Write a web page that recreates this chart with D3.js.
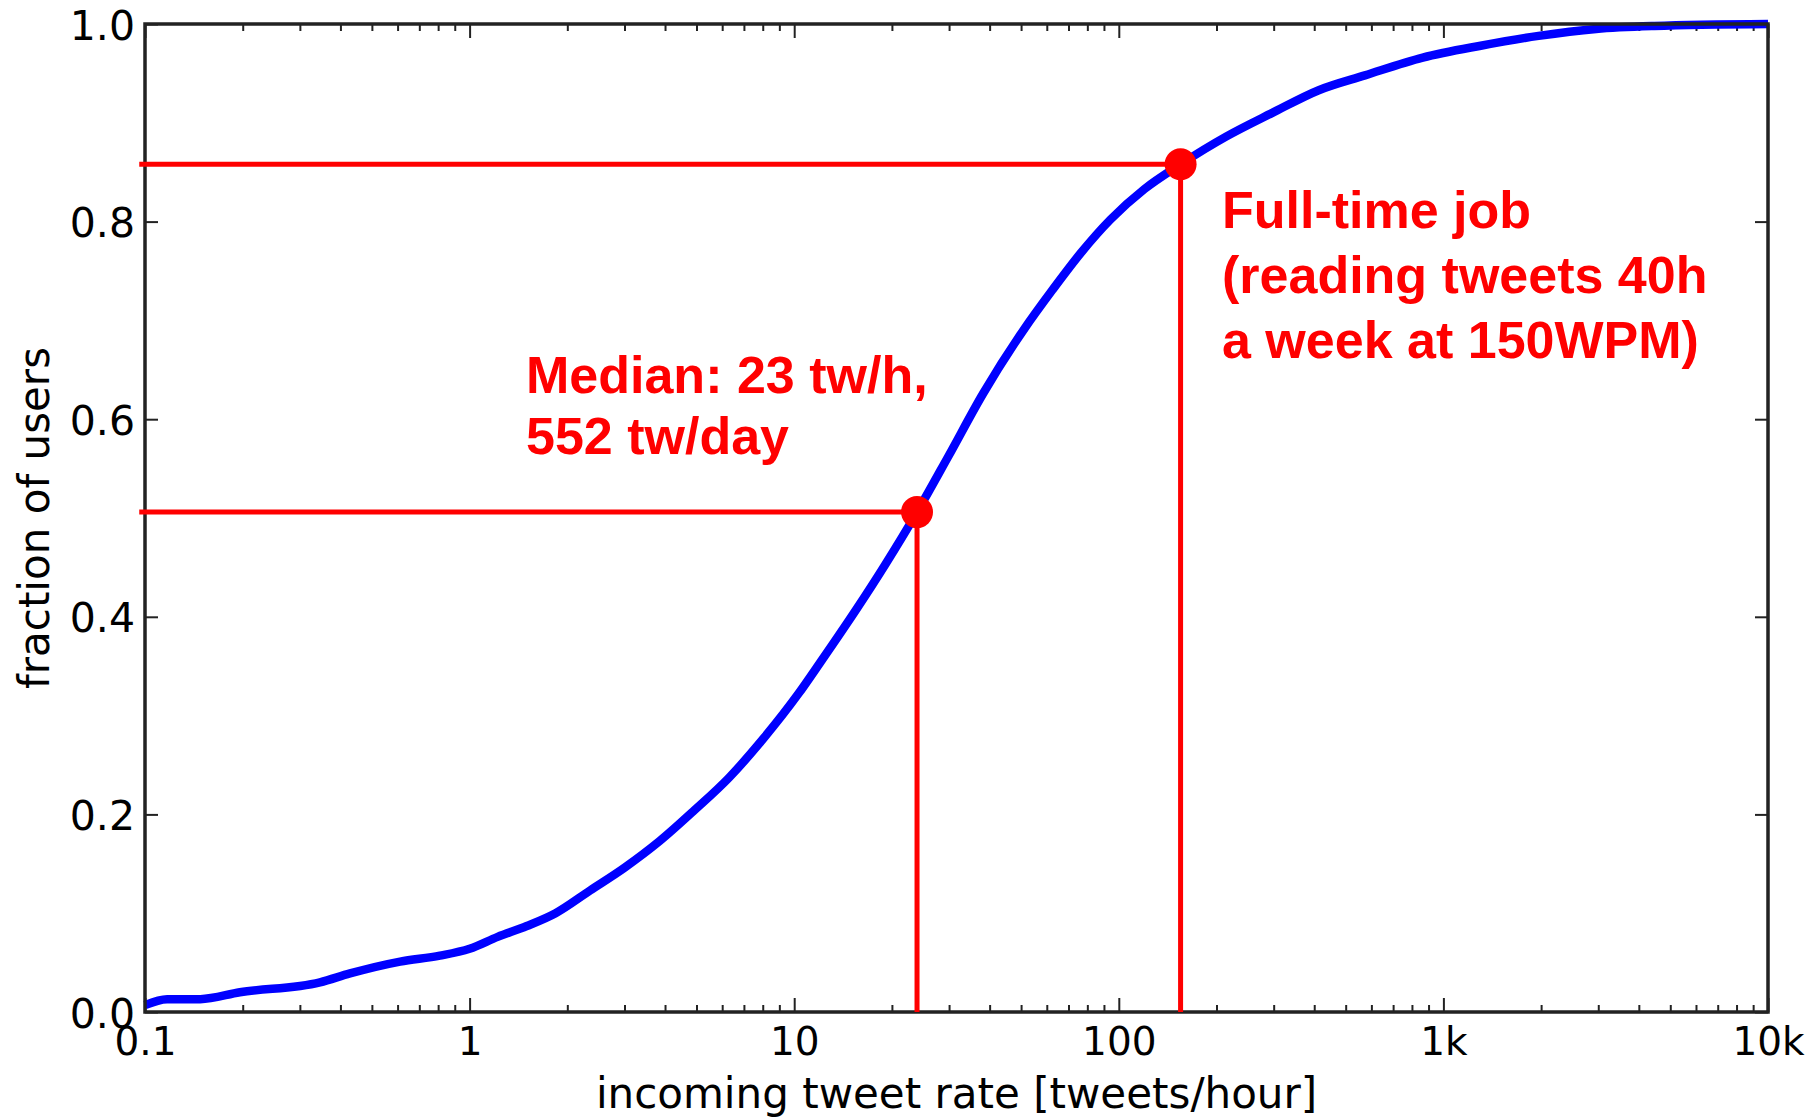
<!DOCTYPE html>
<html>
<head>
<meta charset="utf-8">
<script src="https://cdn.jsdelivr.net/npm/d3@7"></script>
<style>
  body { margin: 0; background: #fff; }
  svg { display: block; }
  .tick text { font-family: "DejaVu Sans", sans-serif; fill: #000; }
  .tick line { stroke: #222; stroke-width: 2; }
  .note { font-family: "Liberation Sans", Arial, sans-serif; font-weight: bold; font-size: 52px; fill: #ff0000; }
</style>
</head>
<body>
<svg width="1814" height="1117"></svg>
<script>
// incoming tweet rate [tweets/hour] vs cumulative fraction of users
const rates = [0.1, 0.117, 0.148, 0.196, 0.346, 0.428, 0.611, 0.81, 1.0, 1.22, 1.5, 1.84, 2.35, 3.0, 3.85, 4.92, 6.29, 8.05, 10.3, 12.1, 15.5, 19.0, 23.9, 29.8, 38.2, 50.8, 62.5, 76.7, 94.2, 120, 155, 214, 297, 413, 573, 864, 1303, 1964, 2954, 4463, 10000];
const fractions = [0.007, 0.013, 0.013, 0.020, 0.030, 0.039, 0.051, 0.057, 0.064, 0.076, 0.087, 0.100, 0.123, 0.146, 0.173, 0.204, 0.237, 0.277, 0.322, 0.355, 0.407, 0.452, 0.506, 0.562, 0.626, 0.690, 0.731, 0.769, 0.802, 0.833, 0.858, 0.886, 0.910, 0.933, 0.948, 0.966, 0.978, 0.988, 0.995, 0.998, 1.0];

// marked points: median and "full-time job"
const markRates = [23.9, 155];
const markFractions = [0.506, 0.858];
const lineStart = 0.096;

const xTickValues = [0.1, 1, 10, 100, 1000, 10000];
const xTickLabels = ["0.1", "1", "10", "100", "1k", "10k"];
const yTickValues = [0, 0.2, 0.4, 0.6, 0.8, 1.0];

const medianText = ["Median: 23 tw/h,", "552 tw/day"];
const fullTimeText = ["Full-time job", "(reading tweets 40h", "a week at 150WPM)"];

const svg = d3.select("svg");
const margin = { top: 24, right: 46, bottom: 105, left: 145 };
const width = 1814 - margin.left - margin.right,
    height = 1117 - margin.top - margin.bottom;

const x = d3.scaleLog().domain([0.1, 10000]).range([0, width]);
const y = d3.scaleLinear().domain([0, 1]).range([height, 0]);

const g = svg.append("g")
    .attr("transform", "translate(" + margin.left + "," + margin.top + ")");

// minor log ticks
let minor = [];
xTickValues.slice(0, -1).forEach(d => {
  for (let k = 2; k <= 9; k++) minor.push(d * k);
});

g.append("g")
    .attr("transform", "translate(0," + height + ")")
    .call(d3.axisBottom(x).tickValues(minor).tickSize(-7).tickFormat(""))
    .call(a => a.select(".domain").remove());
g.append("g")
    .call(d3.axisTop(x).tickValues(minor).tickSize(-7).tickFormat(""))
    .call(a => a.select(".domain").remove());

g.append("g")
    .attr("transform", "translate(0," + height + ")")
    .call(d3.axisBottom(x).tickValues(xTickValues).tickSize(-14).tickPadding(15)
        .tickFormat((d, i) => xTickLabels[i]))
    .call(a => a.select(".domain").remove())
    .selectAll("text").style("font-size", "39px");
g.append("g")
    .call(d3.axisTop(x).tickValues(xTickValues).tickSize(-14).tickFormat(""))
    .call(a => a.select(".domain").remove());

g.append("g")
    .call(d3.axisLeft(y).tickValues(yTickValues).tickSize(-13).tickPadding(10)
        .tickFormat(d3.format(".1f")))
    .call(a => a.select(".domain").remove())
    .selectAll("text").style("font-size", "41px").attr("dy", "0.37em");
g.append("g")
    .attr("transform", "translate(" + width + ",0)")
    .call(d3.axisRight(y).tickValues(yTickValues).tickSize(-13).tickFormat(""))
    .call(a => a.select(".domain").remove());

// data curve
const line = d3.line()
    .x((d, i) => x(rates[i]))
    .y((d, i) => y(fractions[i]))
    .curve(d3.curveMonotoneX);

g.append("path")
    .datum(rates)
    .attr("fill", "none")
    .attr("stroke", "#0000ff")
    .attr("stroke-width", 8.5)
    .attr("stroke-linejoin", "round")
    .attr("d", line);

// frame
g.append("rect")
    .attr("width", width)
    .attr("height", height)
    .attr("fill", "none")
    .attr("stroke", "#222")
    .attr("stroke-width", 3.5);

// guide lines to the marked points
markRates.forEach((r, i) => {
  g.append("line")
      .attr("x1", x(lineStart)).attr("x2", x(r))
      .attr("y1", y(markFractions[i])).attr("y2", y(markFractions[i]))
      .attr("stroke", "#ff0000").attr("stroke-width", 5);
  g.append("line")
      .attr("x1", x(r)).attr("x2", x(r))
      .attr("y1", y(markFractions[i])).attr("y2", y(0))
      .attr("stroke", "#ff0000").attr("stroke-width", 5);
});

g.selectAll(".mark")
    .data(markRates)
    .enter()
    .append("circle")
    .attr("class", "mark")
    .attr("cx", d => x(d))
    .attr("cy", (d, i) => y(markFractions[i]))
    .attr("r", 16)
    .attr("fill", "#ff0000");

// annotations
svg.append("text")
    .attr("class", "note")
    .selectAll("tspan")
    .data(medianText)
    .enter()
    .append("tspan")
    .attr("x", 526)
    .attr("y", (d, i) => 393 + i * 61)
    .text(d => d);

svg.append("text")
    .attr("class", "note")
    .selectAll("tspan")
    .data(fullTimeText)
    .enter()
    .append("tspan")
    .attr("x", 1222)
    .attr("y", (d, i) => 228 + i * 65)
    .text(d => d);

// axis titles
svg.append("text")
    .attr("x", margin.left + width / 2)
    .attr("y", 1108)
    .attr("text-anchor", "middle")
    .style("font-family", "DejaVu Sans, sans-serif")
    .style("font-size", "42px")
    .text("incoming tweet rate [tweets/hour]");

svg.append("text")
    .attr("transform", "translate(49," + (margin.top + height / 2) + ") rotate(-90)")
    .attr("text-anchor", "middle")
    .style("font-family", "DejaVu Sans, sans-serif")
    .style("font-size", "42px")
    .text("fraction of users");
</script>
</body>
</html>
